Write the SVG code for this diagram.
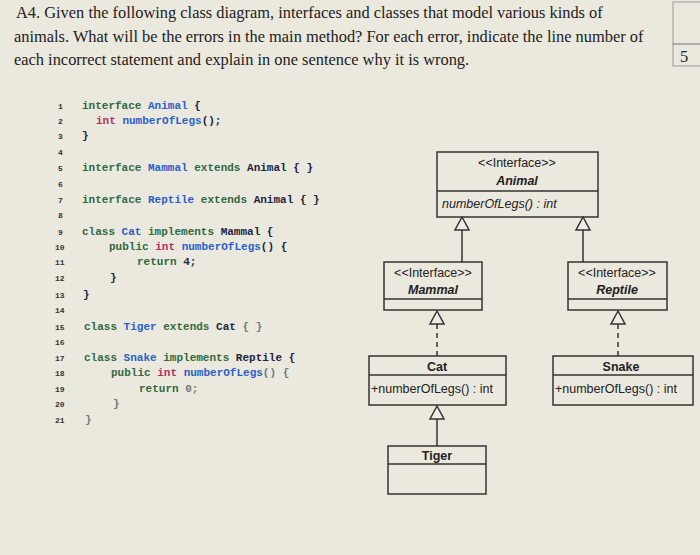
<svg xmlns="http://www.w3.org/2000/svg" width="700" height="555" viewBox="0 0 700 555">
<style>
.t{font-family:"Liberation Serif",serif;font-size:16.4px;fill:#222}
.n{font-family:"Liberation Mono",monospace;font-size:8px;font-weight:bold;fill:#333}
.c{font-family:"Liberation Mono",monospace;font-size:11px;font-weight:bold;fill:#2e6a3e}
.k{fill:#2a5fc9}.p{fill:#b03060}.d{fill:#1e2440}.g{fill:#777}
.box{fill:none;stroke:#333;stroke-width:1.5}
.u{font-family:"Liberation Sans",sans-serif;font-size:12.5px;fill:#222}
.tri{fill:#eeece4;stroke:#333;stroke-width:1.5}
.l{stroke:#333;stroke-width:1.5;fill:none}
</style>
<rect width="700" height="555" fill="#ebe8de"/>
<g id="header">
<text class="t" x="16" y="18">A4. Given the following class diagram, interfaces and classes that model various kinds of</text>
<text class="t" x="14" y="42">animals. What will be the errors in the main method? For each error, indicate the line number of</text>
<text class="t" x="14" y="65">each incorrect statement and explain in one sentence why it is wrong.</text>
<rect x="673" y="2" width="30" height="42" fill="none" stroke="#999"/>
<rect x="673" y="44" width="30" height="22" fill="none" stroke="#999"/>
<text class="t" x="680" y="62" font-size="13">5</text>
</g>
<g id="code">
<text class="n" x="58" y="109">1</text><text class="n" x="58" y="124">2</text><text class="n" x="58" y="139">3</text><text class="n" x="58" y="155">4</text><text class="n" x="58" y="171">5</text><text class="n" x="58" y="187">6</text><text class="n" x="58" y="203">7</text><text class="n" x="58" y="218">8</text><text class="n" x="58" y="235">9</text><text class="n" x="55" y="250">10</text><text class="n" x="55" y="265">11</text><text class="n" x="55" y="281">12</text><text class="n" x="55" y="298">13</text><text class="n" x="55" y="313">14</text><text class="n" x="55" y="330">15</text><text class="n" x="55" y="345">16</text><text class="n" x="55" y="361">17</text><text class="n" x="55" y="376">18</text><text class="n" x="55" y="392">19</text><text class="n" x="55" y="407">20</text><text class="n" x="55" y="423">21</text>
<text class="c" x="82" y="109">interface <tspan class="k">Animal</tspan> <tspan class="d">{</tspan></text>
<text class="c" x="96" y="124"><tspan class="p">int</tspan> <tspan class="k">numberOfLegs</tspan><tspan class="d">();</tspan></text>
<text class="c d" x="82" y="139">}</text>
<text class="c" x="82" y="171">interface <tspan class="k">Mammal</tspan> extends <tspan class="d">Animal</tspan> <tspan class="d">{ }</tspan></text>
<text class="c" x="82" y="203">interface <tspan class="k">Reptile</tspan> extends <tspan class="d">Animal</tspan> <tspan class="d">{ }</tspan></text>
<text class="c" x="82" y="235">class <tspan class="k">Cat</tspan> implements <tspan class="d">Mammal</tspan> <tspan class="d">{</tspan></text>
<text class="c" x="109" y="250">public <tspan class="p">int</tspan> <tspan class="k">numberOfLegs</tspan><tspan class="d">() {</tspan></text>
<text class="c" x="137" y="265">return <tspan class="d">4;</tspan></text>
<text class="c d" x="110" y="281">}</text>
<text class="c d" x="83" y="298">}</text>
<text class="c" x="84" y="330">class <tspan class="k">Tiger</tspan> extends <tspan class="d">Cat</tspan> <tspan class="g">{ }</tspan></text>
<text class="c" x="84" y="361">class <tspan class="k">Snake</tspan> implements <tspan class="d">Reptile</tspan> <tspan class="d">{</tspan></text>
<text class="c" x="111" y="376">public <tspan class="p">int</tspan> <tspan class="k">numberOfLegs</tspan><tspan class="g">() {</tspan></text>
<text class="c" x="139" y="392">return <tspan class="g">0;</tspan></text>
<text class="c g" x="113" y="407">}</text>
<text class="c g" x="85" y="423">}</text>
</g>
<g id="connectors">
<line class="l" x1="462" y1="230" x2="462" y2="262"/>
<polygon class="tri" points="462,217 455,230 469,230"/>
<line class="l" x1="583" y1="230" x2="583" y2="262"/>
<polygon class="tri" points="583,217 576,230 590,230"/>
<line class="l" x1="437" y1="324" x2="437" y2="356" stroke-dasharray="5,4"/>
<polygon class="tri" points="437,311 430,324 444,324"/>
<line class="l" x1="618" y1="324" x2="618" y2="356" stroke-dasharray="5,4"/>
<polygon class="tri" points="618,311 611,324 625,324"/>
<line class="l" x1="437" y1="419" x2="437" y2="446"/>
<polygon class="tri" points="437,406 430,419 444,419"/>
</g>
<g id="Animal">
<rect class="box" x="437" y="152" width="161" height="65"/><line class="l" x1="437" y1="191" x2="598" y2="191"/>
<text class="u" x="517" y="167" text-anchor="middle">&lt;&lt;Interface&gt;&gt;</text>
<text class="u" x="517" y="185" text-anchor="middle" font-weight="bold" font-style="italic">Animal</text>
<text class="u" x="442" y="208" font-style="italic">numberOfLegs() : int</text>
</g>
<g id="Mammal">
<rect class="box" x="384" y="262" width="98" height="48"/><line class="l" x1="384" y1="299" x2="482" y2="299"/>
<text class="u" x="433" y="277" text-anchor="middle" font-size="12">&lt;&lt;Interface&gt;&gt;</text>
<text class="u" x="433" y="294" text-anchor="middle" font-weight="bold" font-style="italic">Mammal</text>
</g>
<g id="Reptile">
<rect class="box" x="568" y="262" width="99" height="48"/><line class="l" x1="568" y1="299" x2="667" y2="299"/>
<text class="u" x="617" y="277" text-anchor="middle" font-size="12">&lt;&lt;Interface&gt;&gt;</text>
<text class="u" x="617" y="294" text-anchor="middle" font-weight="bold" font-style="italic">Reptile</text>
</g>
<g id="Cat">
<rect class="box" x="369" y="356" width="137" height="49"/><line class="l" x1="369" y1="375" x2="506" y2="375"/>
<text class="u" x="437" y="371" text-anchor="middle" font-weight="bold">Cat</text>
<text class="u" x="371" y="393">+numberOfLegs() : int</text>
</g>
<g id="Snake">
<rect class="box" x="553" y="356" width="140" height="49"/><line class="l" x1="553" y1="375" x2="693" y2="375"/>
<text class="u" x="621" y="371" text-anchor="middle" font-weight="bold">Snake</text>
<text class="u" x="555" y="393">+numberOfLegs() : int</text>
</g>
<g id="Tiger">
<rect class="box" x="388" y="446" width="98" height="48"/><line class="l" x1="388" y1="464" x2="486" y2="464"/>
<text class="u" x="437" y="460" text-anchor="middle" font-weight="bold">Tiger</text>
</g>
</svg>
